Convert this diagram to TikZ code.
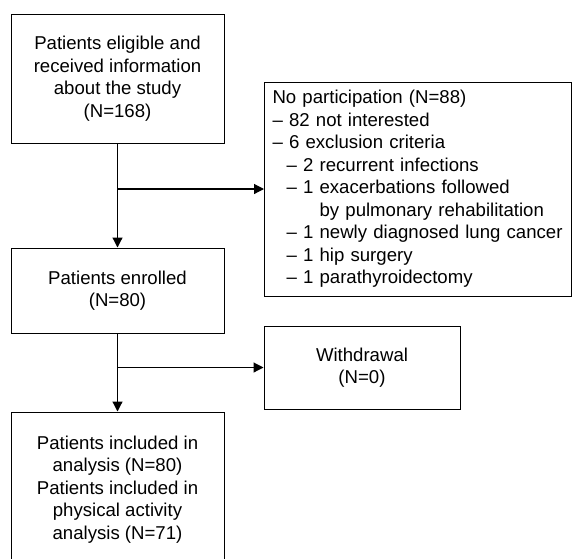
\documentclass[tikz,border=0pt]{standalone}
\usepackage{fontspec}
\setmainfont{Liberation Sans}
\usetikzlibrary{arrows.meta}

\begin{document}
\begin{tikzpicture}[x=1pt, y=-1pt, line width=1.2pt, -{Triangle[length=10pt,width=10pt]}]
\tikzstyle{b} = [draw=black, -, line width=1pt, align=center, inner sep=0pt, font=\fontsize{18.6}{22.5}\selectfont]
\tikzstyle{e} = [draw=black]

\useasboundingbox (0,0) rectangle (573,558);

\node[b, minimum width=213pt, minimum height=129pt] (elig) at (117.5, 78.5)
  {Patients eligible and\\received information\\about the study\\(N=168)};
\node[b, minimum width=213pt, minimum height=85pt] (enrol) at (117.5, 290.5)
  {Patients enrolled\\(N=80)};
\node[b, minimum width=213pt, minimum height=155pt] (incl) at (117.5, 489.5)
  {Patients included in\\analysis (N=80)\\Patients included in\\physical activity\\analysis (N=71)};
\node[b, minimum width=307pt, minimum height=214pt, inner xsep=8pt, text width=291pt, align=left] (nopart) at (418, 189)
  {No participation (N=88)\\
   – 82 not interested\\
   – 6 exclusion criteria\\
   \hspace*{14pt}– 2 recurrent infections\\
   \hspace*{14pt}– 1 exacerbations followed\\
   \hspace*{14pt}\phantom{– 1 }by pulmonary rehabilitation\\
   \hspace*{14pt}– 1 newly diagnosed lung cancer\\
   \hspace*{14pt}– 1 hip surgery\\
   \hspace*{14pt}– 1 parathyroidectomy};
\node[b, minimum width=196pt, minimum height=83pt] (withdr) at (362, 367.5)
  {Withdrawal\\(N=0)};

\coordinate (j1) at (117.5, 189);
\coordinate (j2) at (117.5, 367.5);

\draw[e] (elig) to (enrol);
\draw[e] (j1) to (nopart);
\draw[e] (enrol) to (incl);
\draw[e] (j2) to (withdr);
\end{tikzpicture}
\end{document}
